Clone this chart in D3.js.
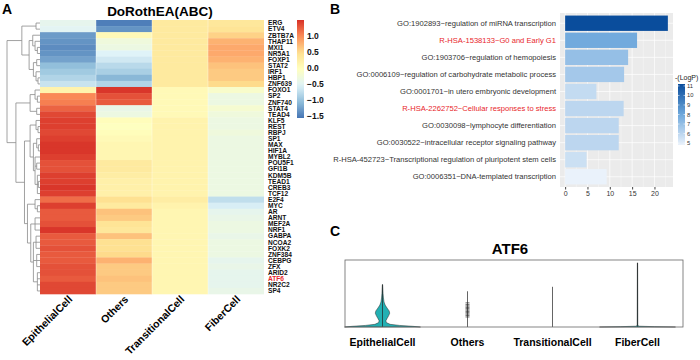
<!DOCTYPE html>
<html><head><meta charset="utf-8">
<script src="https://cdn.jsdelivr.net/npm/d3@7"></script>
<style>body{margin:0;background:#fff}svg{display:block}text{font-family:"Liberation Sans",Arial,sans-serif}</style>
</head><body><svg id="c" width="700" height="360"></svg>
<script>
// ---------- Panel A data ----------
const genes = ["ERG","ETV4","ZBTB7A","THAP11","MXI1","NR5A1","FOXP1","STAT2","IRF1","HBP1","ZNF639",
 "FOXO1","SP2","ZNF740","STAT4","TEAD4",
 "KLF5","REST","RBPJ","SP1","MAX","HIF1A","MYBL2","POU5F1","GFI1B","KDM5B","TEAD1","CREB3","TCF12",
 "E2F4","MYC","AR","ARNT","MEF2A","NRF1","GABPA","NCOA2","FOXK2","ZNF384","CEBPG","ZFX","ARID2","ATF6","NR2C2","SP4"];
const cellTypes = ["EpithelialCell","Others","TransitionalCell","FiberCell"];
const epithelial = [-0.45,-0.5,-1.3,-1.35,-1.4,-1.35,-1.25,-1.05,-0.95,-0.85,-0.7,
 0.15,1.0,1.05,1.2,1.35,
 1.4,1.4,1.35,1.4,1.45,1.45,1.4,1.3,1.3,1.4,1.4,1.45,1.4,
 1.15,1.4,1.25,1.25,1.3,1.45,1.25,1.25,1.3,1.25,1.25,1.3,1.3,1.25,1.35,1.35];
const others = [-1.5,-1.35,0.05,-0.3,-0.35,-0.55,-0.65,-0.8,-0.9,-1.1,-0.85,
 1.45,1.3,1.25,-0.4,-0.35,
 0.0,-0.05,0.0,0.05,0.1,0.1,0.1,0.3,0.3,0.25,0.2,0.2,0.2,
 0.45,0.3,0.65,0.6,0.4,0.35,0.65,0.45,0.45,0.5,0.75,0.6,0.6,0.65,0.6,0.6];
const transitional = [0.3,0.3,0.3,0.3,0.3,0.3,0.3,0.3,0.3,0.3,0.3,
 0.05,0.05,0.05,0.05,0.05,
 0.15,0.15,0.15,0.15,0.15,0.15,0.15,0.15,0.15,0.15,0.15,0.15,0.15,
 0.25,0.15,0.1,0.1,0.1,0.1,0.1,0.1,0.1,0.1,0.1,0.1,0.1,0.1,0.1,0.1];
const fiber = [0.35,0.4,0.55,0.75,0.8,0.8,0.75,0.65,0.6,0.6,0.5,
 -0.15,-0.35,-0.35,-0.2,-0.3,
 -0.35,-0.35,-0.3,-0.35,-0.35,-0.35,-0.35,-0.35,-0.35,-0.35,-0.35,-0.35,-0.35,
 -0.75,-0.6,-0.45,-0.4,-0.35,-0.35,-0.4,-0.35,-0.35,-0.35,-0.45,-0.4,-0.45,-0.45,-0.45,-0.4];
const heatTicks = [-1.5,-1,-0.5,0,0.5,1];
const heatRange = [-1.56, 1.48];
const highlightGenes = ["ATF6"];
// dendrogram: [height, children...]
const tree = [1.0,
  [0.55,
    [0.12,"ERG","ETV4"],
    [0.33,
      [0.22,"ZBTB7A",[0.15,"THAP11",[0.08,"MXI1","NR5A1"]]],
      [0.2,[0.1,"FOXP1","STAT2"],[0.12,"IRF1",[0.06,"HBP1","ZNF639"]]]]],
  [0.73,
    [0.3,[0.15,"FOXO1",[0.08,"SP2","ZNF740"]],[0.1,"STAT4","TEAD4"]],
    [0.47,
      [0.3,[0.12,"KLF5",[0.06,"REST","RBPJ"]],
           [0.2,[0.1,"SP1",[0.05,"MAX","HIF1A"]],[0.15,"MYBL2",[0.1,"POU5F1","GFI1B"],[0.08,"KDM5B",[0.05,"TEAD1","CREB3"],"TCF12"]]]],
      [0.38,[0.15,"E2F4",[0.08,"MYC","AR"]],
           [0.28,[0.15,"ARNT","MEF2A","NRF1"],[0.2,[0.12,"GABPA","NCOA2","FOXK2"],[0.1,"ZNF384","CEBPG","ZFX"],[0.08,"ARID2","ATF6","NR2C2","SP4"]]]]]]];

// ---------- Panel B data ----------
const terms = ["GO:1902893~regulation of miRNA transcription","R-HSA-1538133~G0 and Early G1",
 "GO:1903706~regulation of hemopoiesis","GO:0006109~regulation of carbohydrate metabolic process",
 "GO:0001701~in utero embryonic development","R-HSA-2262752~Cellular responses to stress",
 "GO:0030098~lymphocyte differentiation","GO:0030522~intracellular receptor signaling pathway",
 "R-HSA-452723~Transcriptional regulation of pluripotent stem cells","GO:0006351~DNA-templated transcription"];
const counts = [23, 16.1, 14.1, 13.2, 7.0, 13.1, 12.0, 12.0, 4.8, 9.3];
const logP = [11.2, 7.9, 7.0, 6.6, 5.8, 6.0, 6.0, 6.0, 5.6, 4.8];
const highlightTerms = ["R-HSA-1538133~G0 and Early G1","R-HSA-2262752~Cellular responses to stress"];
const xTicksB = [0,5,10,15,20];
const legendTicksB = [5,6,7,8,9,10,11];

// ---------- Panel C data ----------
const vlnGroups = ["EpithelialCell","Others","TransitionalCell","FiberCell"];
const epiDensity = [[0,1],[0.03,0.8],[0.07,0.45],[0.12,0.2],[0.2,0.1],[0.28,0.09],[0.38,0.12],[0.5,0.16],[0.62,0.19],[0.72,0.175],[0.85,0.12],[0.98,0.07],[1.12,0.04],[1.3,0.025],[1.5,0.015],[1.7,0.01],[1.9,0.004]];
const fiberDensity = [[0,1],[0.015,0.45],[0.035,0.04],[0.08,0.008],[2.87,0.004]];
const epiMax = 1.9, othersMax = 1.6, transMax = 1.8, fiberMax = 2.87;
const othersPoints = [0.45,0.52,0.58,0.64,0.7,0.76,0.82,0.88,0.94,1.0,1.08];

// ---------- drawing ----------
const svg = d3.select("#c");
const F = '"Liberation Sans",Arial,sans-serif';
function txt(g,x,y,s,size,opt={}){return g.append("text").attr("x",x).attr("y",y).text(s)
  .attr("font-size",size).attr("font-weight",opt.w||"normal").attr("fill",opt.c||"#000")
  .attr("text-anchor",opt.a||"start");}

// panel letters
txt(svg,2,14,"A",14,{w:"bold"});
txt(svg,330,14,"B",14,{w:"bold"});
txt(svg,330,236,"C",14,{w:"bold"});

// ===== Panel A =====
const gA = svg.append("g");
txt(gA,160,16,"DoRothEA(ABC)",13.5,{w:"bold",a:"middle"});
const yA = d3.scaleBand().domain(genes).range([20,294]);
const xA = d3.scaleBand().domain(cellTypes).range([40,264]);
const pal = ["#4575B4","#91BFDB","#E0F3F8","#FFFFBF","#FEE090","#FC8D59","#D73027"];
const color = d3.scaleLinear().domain(pal.map((_,i)=>heatRange[0]+i*(heatRange[1]-heatRange[0])/6)).range(pal).clamp(true);
const cols = [epithelial, others, transitional, fiber];
const cells = [];
cellTypes.forEach((ct,j)=>genes.forEach((g,i)=>cells.push({ct,g,v:cols[j][i]})));
gA.selectAll("rect.cell").data(cells).join("rect").attr("class","cell")
  .attr("x",d=>xA(d.ct)).attr("y",d=>yA(d.g)).attr("width",xA.bandwidth()).attr("height",yA.bandwidth()+0.3)
  .attr("fill",d=>color(d.v));
gA.selectAll("line.sep").data(cellTypes.slice(1)).join("line")
  .attr("x1",d=>xA(d)).attr("x2",d=>xA(d)).attr("y1",20).attr("y2",294)
  .attr("stroke","#fff").attr("stroke-opacity",0.6).attr("stroke-width",0.6);
gA.selectAll("text.gene").data(genes).join("text").attr("class","gene")
  .attr("x",268).attr("y",d=>yA(d)+yA.bandwidth()/2+2.3).text(d=>d)
  .attr("font-size",6.6).attr("font-weight","bold")
  .attr("fill",d=>highlightGenes.includes(d)?"#e8262b":"#111");
gA.selectAll("text.col").data(cellTypes).join("text").attr("class","col")
  .attr("transform",d=>`translate(${xA(d)+xA.bandwidth()/2+5},300) rotate(-45)`)
  .attr("text-anchor","end").attr("font-size",10.5).attr("font-weight","bold").text(d=>d);
const root = d3.hierarchy(tree, d=>Array.isArray(d)?d.slice(1):null);
const xD = d3.scaleLinear().domain([0,1]).range([40,7]);
root.eachAfter(n=>{
  if(!n.children){n.px=40;n.py=yA(n.data)+yA.bandwidth()/2;}
  else{n.px=xD(n.data[0]);n.py=(n.children[0].py+n.children[n.children.length-1].py)/2;}
});
const segs=[];
root.each(n=>{ if(n.children){
  segs.push([n.px,n.children[0].py,n.px,n.children[n.children.length-1].py]);
  n.children.forEach(c=>segs.push([n.px,c.py,c.px,c.py]));
}});
gA.selectAll("line.den").data(segs).join("line").attr("class","den")
  .attr("x1",d=>d[0]).attr("y1",d=>d[1]).attr("x2",d=>d[2]).attr("y2",d=>d[3])
  .attr("stroke","#8a8a8a").attr("stroke-width",0.8);
const defs = svg.append("defs");
const lgA = defs.append("linearGradient").attr("id","gA").attr("x1",0).attr("y1",1).attr("x2",0).attr("y2",0);
d3.range(0,1.0001,0.05).forEach(t=>lgA.append("stop").attr("offset",t).attr("stop-color",color(heatRange[0]+t*(heatRange[1]-heatRange[0]))));
const cbY = d3.scaleLinear().domain(heatRange).range([118,20]);
gA.append("rect").attr("x",297).attr("y",20).attr("width",7).attr("height",98).attr("fill","url(#gA)");
const axA = gA.append("g").attr("transform","translate(304,0)").call(d3.axisRight(cbY).tickValues(heatTicks).tickSize(0).tickPadding(3));
axA.select(".domain").remove();
axA.selectAll("text").attr("font-size",8.5).attr("font-weight","bold").attr("font-family",F).attr("fill","#111");

// ===== Panel B =====
const gB = svg.append("g");
const maxC = d3.max(counts);
const xB = d3.scaleLinear().domain([-0.05*maxC, maxC*1.05]).range([560,673]);
const yB = d3.scaleBand().domain(terms).range([13,187]).paddingInner(0.1).paddingOuter(0.15);
gB.append("rect").attr("x",560).attr("y",13).attr("width",113).attr("height",174).attr("fill","#ebebeb");
const minor = [2.5,7.5,12.5,17.5,22.5];
gB.selectAll("line.mn").data(minor).join("line").attr("x1",d=>xB(d)).attr("x2",d=>xB(d)).attr("y1",13).attr("y2",187).attr("stroke","#fff").attr("stroke-width",0.35);
gB.selectAll("line.mj").data(xTicksB).join("line").attr("x1",d=>xB(d)).attr("x2",d=>xB(d)).attr("y1",13).attr("y2",187).attr("stroke","#fff").attr("stroke-width",0.7);
gB.selectAll("line.hg").data(terms).join("line").attr("x1",560).attr("x2",673).attr("y1",d=>yB(d)+yB.bandwidth()/2).attr("y2",d=>yB(d)+yB.bandwidth()/2).attr("stroke","#fff").attr("stroke-width",0.7);
const lpExt = d3.extent(logP);
const colB = d3.scaleLinear().domain([lpExt[0], 8, lpExt[1]]).range(["#eaf2fb","#6ea8dc","#0a4d9c"]);
gB.selectAll("rect.bar").data(terms).join("rect").attr("class","bar")
  .attr("x",xB(0)).attr("y",d=>yB(d)).attr("height",yB.bandwidth())
  .attr("width",(d,i)=>xB(counts[i])-xB(0)).attr("fill",(d,i)=>colB(logP[i]));
gB.selectAll("text.term").data(terms).join("text").attr("class","term")
  .attr("x",556).attr("y",d=>yB(d)+yB.bandwidth()/2+2.6).attr("text-anchor","end")
  .attr("font-size",7.6).attr("fill",d=>highlightTerms.includes(d)?"#e8262b":"#333").text(d=>d);
const axB = gB.append("g").attr("transform","translate(0,187)").call(d3.axisBottom(xB).tickValues(xTicksB).tickSize(2.5).tickPadding(2));
axB.select(".domain").remove();
axB.selectAll("line").attr("stroke","#444");
axB.selectAll("text").attr("font-size",7).attr("fill","#333").attr("font-family",F);
txt(gB,675,80,"-(LogP)",7,{c:"#222"});
const lgY = d3.scaleLinear().domain(lpExt).range([145,84]);
const lgB = defs.append("linearGradient").attr("id","gB").attr("x1",0).attr("y1",1).attr("x2",0).attr("y2",0);
d3.range(0,1.0001,0.1).forEach(t=>lgB.append("stop").attr("offset",t).attr("stop-color",colB(lpExt[0]+t*(lpExt[1]-lpExt[0]))));
gB.append("rect").attr("x",678).attr("y",84).attr("width",7).attr("height",61).attr("fill","url(#gB)");
gB.selectAll("line.lt").data(legendTicksB).join("line").attr("x1",678).attr("x2",679.5).attr("y1",d=>lgY(d)).attr("y2",d=>lgY(d)).attr("stroke","#fff").attr("stroke-width",0.6);
gB.selectAll("line.lt2").data(legendTicksB).join("line").attr("x1",683.5).attr("x2",685).attr("y1",d=>lgY(d)).attr("y2",d=>lgY(d)).attr("stroke","#fff").attr("stroke-width",0.6);
gB.selectAll("text.lt").data(legendTicksB).join("text").attr("x",687).attr("y",d=>lgY(d)+2).attr("font-size",5.8).attr("fill","#333").text(d=>d);

// ===== Panel C =====
const gC = svg.append("g");
txt(gC,510,254,"ATF6",15,{w:"bold",a:"middle"});
const xC = d3.scaleBand().domain(vlnGroups).range([340,680]);
const yC = d3.scaleLinear().domain([0,3]).range([327,260]);
const cx = g=>xC(g)+xC.bandwidth()/2;
const hw = 38;
function violin(g,dens,fill){
  const area = d3.area().curve(d3.curveLinear).y(d=>yC(d[0]))
    .x0(d=>cx(g)-hw*d[1]).x1(d=>cx(g)+hw*d[1]);
  gC.append("path").datum(dens).attr("d",area).attr("fill",fill).attr("stroke","#2b2b2b").attr("stroke-width",0.5);
}
violin("EpithelialCell",epiDensity,"#22b0b3");
violin("FiberCell",fiberDensity,"#22b0b3");
const maxes = [epiMax, othersMax, transMax, fiberMax];
gC.selectAll("line.pt").data(vlnGroups).join("line").attr("x1",d=>cx(d)).attr("x2",d=>cx(d))
  .attr("y1",yC(0)).attr("y2",(d,i)=>yC(maxes[i])).attr("stroke","#222").attr("stroke-width",0.7);
gC.selectAll("line.dash").data(othersPoints).join("line").attr("x1",cx("Others")-2).attr("x2",cx("Others")+2)
  .attr("y1",d=>yC(d)).attr("y2",d=>yC(d)).attr("stroke","#222").attr("stroke-width",0.7);
gC.append("rect").attr("x",345).attr("y",260).attr("width",338).attr("height",67).attr("fill","none").attr("stroke","#666").attr("stroke-width",0.8);
gC.selectAll("text.grp").data(vlnGroups).join("text").attr("x",d=>cx(d)).attr("y",346)
  .attr("text-anchor","middle").attr("font-size",10.5).attr("font-weight","bold").text(d=>d);
</script></body></html>
